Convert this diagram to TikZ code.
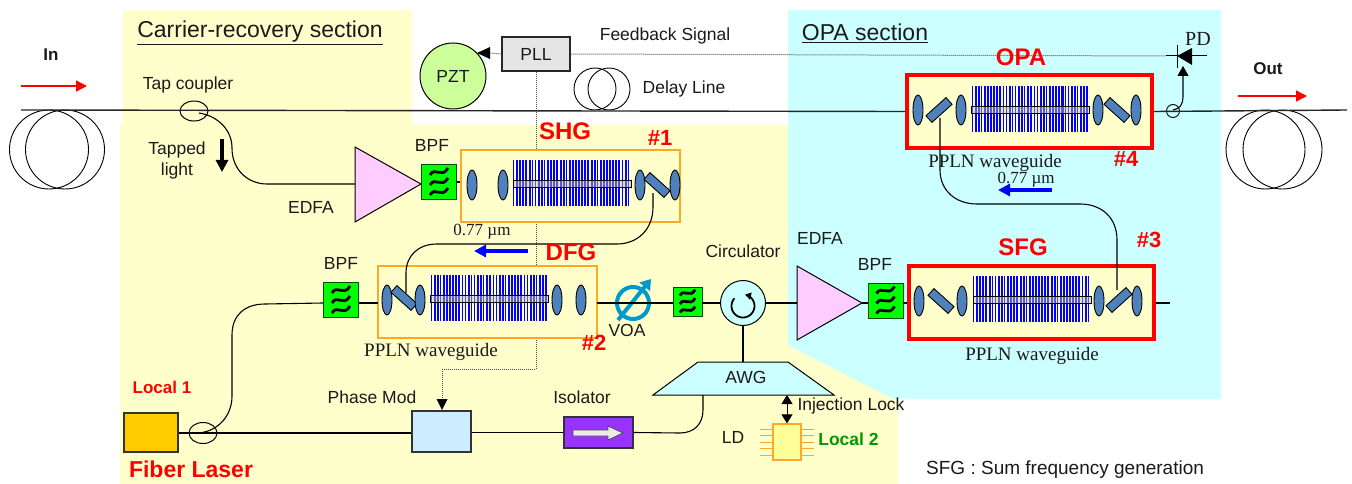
\documentclass[tikz,border=0pt]{standalone}
\usepackage{fontspec}
\setmainfont{Liberation Sans}
\newfontfamily\serifx{Liberation Serif}
\usetikzlibrary{arrows.meta,shapes.geometric,backgrounds}
\definecolor{bgyellow}{HTML}{FFFFCC}
\definecolor{bgcyan}{HTML}{CCFFFF}
\definecolor{lensblue}{HTML}{4F81BD}
\definecolor{orangebox}{HTML}{FFA726}
\definecolor{gblue}{HTML}{0000FF}
\definecolor{voablue}{HTML}{0099CC}
\definecolor{dotgray}{HTML}{505050}
\definecolor{txt}{HTML}{1A1A1A}
\tikzset{
  lab/.style={font=\fontsize{17.5}{19}\selectfont,text=txt,inner sep=0pt},
  serlab/.style={font=\serifx\fontsize{19}{21}\selectfont,text=txt,inner sep=0pt},
  redlab/.style={font=\bfseries\fontsize{24}{26}\selectfont,text=red,inner sep=0pt},
  lens/.style={ellipse,minimum width=10,minimum height=30,inner sep=0pt,fill=lensblue,draw=black,line width=0.9},
  mirrorbox/.style={rectangle,minimum width=27,minimum height=9,inner sep=0pt,fill=lensblue,draw=black,line width=0.9},
  bpfbox/.style={rectangle,minimum size=35,inner sep=0pt,fill=green,draw=black!70!green,line width=0.9},
  smallbpf/.style={bpfbox,minimum size=29},
  orgbox/.style={rectangle,inner sep=0pt,minimum width=219,minimum height=72,fill=bgyellow,draw=orangebox,line width=2},
  redbox/.style={rectangle,inner sep=0pt,minimum width=245,minimum height=73,fill=bgyellow,draw=red,line width=4},
  fiber/.style={line width=1.4,draw=black!85},
  thin fiber/.style={line width=1.1,draw=black},
  dotline/.style={line width=1,draw=dotgray,dash pattern=on 1pt off 1pt},
  coil/.style={circle,inner sep=0pt,draw=black,line width=0.9,minimum size=79},
  tip/.style={-{Triangle[length=10,width=11]}},
  fattip/.style={line width=3.5,-{Triangle[length=12,width=12]}}
}
\newcommand\grating[2]{%
  \foreach \i in {0,...,37}{%
    \pgfmathsetmacro\w{1.2+0.9*abs(sin(\i*53))}%
    \fill[gblue] ({#1-59+\i*3.1},{#2-23}) rectangle ++(\w,46);
  }%
  \fill[black!25,opacity=0.45] ({#1-59},{#2-3}) rectangle ({#1+59},{#2+4});
  \draw[black,line width=0.9] ({#1-59},{#2-3}) rectangle ({#1+59},{#2+4});
}
\newcommand\bpfmark[2]{%
  \begin{scope}[shift={(#1.center)},scale=#2]
  \foreach \d in {-10,0,10}{%
    \draw[line width=2.8,black] (-9,\d+3) .. controls (-4,\d-6) and (3,\d+7) .. (9,\d-4);
  }
  \end{scope}%
}
\begin{document}
\begin{tikzpicture}[x=1pt,y=-1pt]
\useasboundingbox (0,0) rectangle (1352,484);
\begin{scope}[on background layer]
  \fill[white] (0,0) rectangle (1352,484);
  \fill[bgyellow] (123,10) -- (412,10) -- (412,125) -- (898,125) -- (898,484) -- (120,484) -- (120,125) -- (123,125) -- cycle;
  \fill[bgcyan] (788,10) -- (1221,10) -- (1221,399) -- (893,399) -- (788,345) -- cycle;
\end{scope}

% coils
\node[coil] (coilA) at (49,149.5) {};
\node[coil] (coilB) at (65,149.5) {};
\node[coil] (coilC) at (1265.5,149.5) {};
\node[coil] (coilD) at (1282.5,149.5) {};
\node[coil,minimum size=42] (delayA) at (595,89) {};
\node[coil,minimum size=42] (delayB) at (609,89) {};

% modules
\node[orgbox] (shg) at (570.5,186) {};
\node[orgbox] (dfg) at (487.5,301.5) {};
\node[redbox] (sfg) at (1031,302) {};
\node[redbox] (opa) at (1029.5,111.5) {};

\grating{572}{183}
\grating{489.5}{298}
\grating{1032}{299}
\grating{1030.5}{109}

\node[lens] (s1) at (472,185) {};
\node[lens] (s2) at (503,185) {};
\node[lens] (s3) at (640,185) {};
\node[mirrorbox,rotate=-42] (s4) at (657,185) {};
\node[lens] (s5) at (675,185) {};

\node[lens] (d1) at (387,300) {};
\node[mirrorbox,rotate=-42] (d2) at (404,298) {};
\node[lens] (d3) at (420,300) {};
\node[lens] (d4) at (557,300) {};
\node[lens] (d5) at (581,300) {};

\node[lens] (f1) at (919,301) {};
\node[mirrorbox,rotate=-42] (f2) at (941,301) {};
\node[lens] (f3) at (962,301) {};
\node[lens] (f4) at (1099,301) {};
\node[mirrorbox,rotate=42] (f5) at (1119,300) {};
\node[lens] (f6) at (1137,301) {};

\node[lens] (o1) at (918,110) {};
\node[mirrorbox,rotate=42] (o2) at (939,110) {};
\node[lens] (o3) at (961,110) {};
\node[lens] (o4) at (1098,110) {};
\node[mirrorbox,rotate=-42] (o5) at (1117,110) {};
\node[lens] (o6) at (1136,110) {};

% amplifiers
\coordinate (e1w) at (355,184);
\coordinate (e1e) at (421,184);
\draw[fill={rgb,255:red,255;green,204;blue,255},draw=black,line width=1] (355,147) -- (e1e) -- (355,222) -- cycle;
\coordinate (e2w) at (797,303);
\coordinate (e2e) at (862,303);
\draw[fill={rgb,255:red,255;green,204;blue,255},draw=black,line width=1] (797,266) -- (e2e) -- (797,340) -- cycle;

% BPF
\node[bpfbox] (b1) at (439,182) {};
\node[bpfbox] (b2) at (341,300) {};
\node[smallbpf] (b3) at (687.5,301.5) {};
\node[bpfbox] (b4) at (885.5,300.5) {};
\bpfmark{b1}{1}
\bpfmark{b2}{1}
\bpfmark{b3}{0.85}
\bpfmark{b4}{1}

% other devices
\node[circle,minimum size=66,inner sep=0pt,fill={rgb,255:red,204;green,255;blue,153},draw=black,line width=1,lab] (pzt) at (453,76) {PZT};
\node[rectangle,minimum width=68,minimum height=34,inner sep=0pt,fill=black!10,draw=black!85,line width=1.2,lab] (pll) at (536,54) {PLL};
\node[circle,minimum size=45,inner sep=0pt,fill=bgcyan,draw=black,line width=1] (circ) at (743,303) {};
\draw[line width=1.8,-{Triangle[length=6,width=7]}] plot[domain=222:-80,samples=40] ({743+11.5*cos(\x)},{306+11.5*sin(\x)});
\node[rectangle,minimum width=54,minimum height=39,inner sep=0pt,fill={rgb,255:red,255;green,204;blue,0},draw=black!80,line width=1.1] (laser) at (151,432.5) {};
\node[rectangle,minimum width=59,minimum height=41,inner sep=0pt,fill={rgb,255:red,204;green,236;blue,255},draw=black!80,line width=1.1] (pmod) at (441.5,431.5) {};
\node[rectangle,minimum width=69,minimum height=31,inner sep=0pt,fill={rgb,255:red,153;green,51;blue,255},draw=black!80,line width=1.1] (iso) at (598.5,432.5) {};
\draw[fill=black!8,draw=black!70,line width=0.8] (573,430) -- (608,430) -- (608,426) -- (623,433) -- (608,440) -- (608,436) -- (573,436) -- cycle;
\coordinate (awgtop) at (743,362);
\coordinate (awgbl) at (703,395);
\coordinate (awgbr) at (787,395);
\draw[fill=bgcyan,draw=black,line width=1] (698,362) -- (788,362) -- (834,395) -- (653,395) -- cycle;
\node[rectangle,minimum width=28,minimum height=36,inner sep=0pt,fill={rgb,255:red,255;green,255;blue,153},draw=orangebox,line width=1.2] (ld) at (787,442) {};
\foreach \p in {429,435.5,442,448.5,455}{
  \draw[orangebox,line width=1] (760,\p) -- (773,\p);
  \draw[orangebox,line width=1] (801,\p) -- (814,\p);
}
\node[ellipse,minimum width=28,minimum height=20,inner sep=0pt,draw=black,line width=1] (tap) at (194,111) {};
\node[ellipse,minimum width=28,minimum height=21,inner sep=0pt,draw=black,line width=1] (tap2) at (203,433) {};
\node[circle,minimum size=13,inner sep=0pt,draw=black,line width=0.9] (tap3) at (1173,111) {};

% PD
\coordinate (pdtip) at (1183,66);
\coordinate (pdl) at (1166,56);
\coordinate (pdr) at (1207,56);
\draw[line width=1] (pdl) -- (pdr);
\draw[line width=1] (1177,45) -- (1177,68);
\fill[black] (1177,56) -- (1192,48) -- (1192,65) -- cycle;

% VOA
\node[circle,minimum size=32,inner sep=0pt,draw=voablue,line width=4] (voa) at (633,303) {};
\draw[voablue,line width=4,-{Triangle[length=10,width=13]}] (618,320) -- (651,279);

% fibers
\coordinate (infiber) at (21,110);
\coordinate (outfiber) at (1347,110);
\draw[fiber] (infiber) -- (opa.west);
\draw[fiber] (opa.east) -- (outfiber);
\draw[thin fiber] (199,113) .. controls (218,116) and (232,130) .. (232,148) .. controls (232,170) and (248,184) .. (267,184) -- (e1w);
\draw[thin fiber] (e1e) -- (b1);
\draw[thin fiber] (b1) -- (shg.west |- b1);
\draw[thin fiber] (653,193) -- (653,207) .. controls (653,230) and (637,244) .. (617,244) -- (437,244) .. controls (418,244) and (406,256) .. (406,273) -- (406,293);
\coordinate (dfgl) at (378,303);
\coordinate (dfgr) at (597,303);
\draw[thin fiber] (b2.east |- dfgl) -- (dfgl);
\draw[thin fiber] (dfgr) -- (b3.west |- dfgr);
\draw[thin fiber] (b3.east |- circ) -- (circ.west);
\draw[thin fiber] (circ.east) -- (e2w);
\draw[thin fiber] (e2e) -- (b4.west |- e2e);
\draw[thin fiber] (b4.east |- e2e) -- (sfg.west |- e2e);
\coordinate (sfgout) at (1170,303);
\draw[thin fiber] (sfg.east |- sfgout) -- (sfgout);
\draw[thin fiber] (circ.south) -- (awgtop);
\draw[thin fiber] (laser.east |- tap2) -- (pmod.west |- tap2);
\draw[thin fiber] (pmod.east |- iso) -- (iso.west);
\draw[thin fiber] (iso.east) -- (680,433) .. controls (694,433) and (703,424) .. (703,410) -- (awgbl);
\draw[thin fiber] (199,433) .. controls (218,431) and (232,416) .. (232,396) -- (232,335) .. controls (232,315) and (245,304) .. (265,304) -- (b2.west |- dfgl);
\draw[thin fiber] (1117,290) -- (1117,240) .. controls (1117,218) and (1102,204) .. (1080,204) -- (977,204) .. controls (955,204) and (940,190) .. (940,170) -- (940,118);
\draw[thin fiber,tip] (1173,110) .. controls (1180,109) and (1183,104) .. (1183,97) -- (pdtip);
\draw[line width=1,{Triangle[length=9,width=11]}-{Triangle[length=9,width=11]}] (awgbr) -- (ld.north -| awgbr);

% dotted
\begin{scope}[on background layer]
  \draw[dotline] (pll.south) -- (536,369) -- (442,369);
  \draw[dotline] (pll.east) -- (pdl);
\end{scope}
\draw[dotline] (442,369) -- (442,400);
\fill[black] (442,410) -- (436.5,399) -- (447.5,399) -- cycle;
\draw[dotline] (pll.west) -- (490,53);
\fill[black] (477,53) -- (490,47) -- (490,59) -- cycle;

% arrows
\coordinate (ira) at (21,86); \coordinate (irb) at (87,86);
\draw[red,line width=1.4,-{Triangle[length=11,width=11]}] (ira) -- (irb);
\coordinate (ora) at (1238,96); \coordinate (orb) at (1307,96);
\draw[red,line width=1.4,-{Triangle[length=11,width=11]}] (ora) -- (orb);
\coordinate (tla) at (222,139); \coordinate (tlb) at (222,172);
\draw[black,fattip] (tla) -- (tlb);
\coordinate (ba) at (528,251); \coordinate (bb) at (474,251);
\draw[blue,fattip] (ba) -- (bb);
\coordinate (ca) at (1052,190); \coordinate (cb) at (998,190);
\draw[blue,fattip] (ca) -- (cb);

% text
\begin{scope}[yshift=-1.7pt]
\node[lab] (awgt) at (746,376) {AWG};
\node[lab,font=\bfseries\fontsize{17}{19}\selectfont] (tin) at (51,53) {In};
\node[lab,font=\bfseries\fontsize{17}{19}\selectfont] (tout) at (1268,67) {Out};
\node[lab,font=\fontsize{23}{25}\selectfont] (tcr) at (260,31) {\underline{Carrier-recovery section}};
\node[lab,font=\fontsize{23}{25}\selectfont] (topa) at (865,32) {\underline{OPA section}};
\node[lab] (ttap) at (188,83) {Tap coupler};
\node[lab,align=center] (tlight) at (177,159) {Tapped\\[2pt]light};
\node[lab] (te1) at (311,206) {EDFA};
\node[lab] (tb1) at (432,144) {BPF};
\node[lab] (tb2) at (341,262) {BPF};
\node[lab] (tb4) at (875,263) {BPF};
\node[lab] (te2) at (820,237) {EDFA};
\node[lab] (tcirc) at (743,250) {Circulator};
\node[lab] (tvoa) at (627,329) {VOA};
\node[lab] (tfb) at (665,34) {Feedback Signal};
\node[lab] (tdl) at (684,87) {Delay Line};
\node[lab] (tpm) at (372,396) {Phase Mod};
\node[lab] (tiso) at (582,396) {Isolator};
\node[lab] (tinj) at (851,404) {Injection Lock};
\node[lab] (tld) at (733,436) {LD};
\node[lab,anchor=west,font=\fontsize{19}{21}\selectfont] (tsfg) at (926,468) {SFG : Sum frequency generation};
\node[lab,font=\serifx\fontsize{20}{22}\selectfont] (tpd) at (1198,37) {PD};
\node[serlab] (tp2) at (431,350) {PPLN waveguide};
\node[serlab] (tp3) at (1032,354) {PPLN waveguide};
\node[serlab] (tp4) at (995,161) {PPLN waveguide};
\node[serlab,font=\serifx\fontsize{17}{19}\selectfont] (tm1) at (482,230) {0.77 µm};
\node[serlab,font=\serifx\fontsize{17}{19}\selectfont] (tm2) at (1026,178) {0.77 µm};
\end{scope}
\node[redlab] (tshg) at (565,131) {SHG};
\node[redlab] (tdfg) at (571,252) {DFG};
\node[redlab] (tsf) at (1023,247) {SFG};
\node[redlab] (top) at (1021,57) {OPA};
\node[redlab,font=\bfseries\fontsize{22}{24}\selectfont] (h1) at (660,138) {\#1};
\node[redlab,font=\bfseries\fontsize{22}{24}\selectfont] (h2) at (594,343) {\#2};
\node[redlab,font=\bfseries\fontsize{22}{24}\selectfont] (h3) at (1149,240) {\#3};
\node[redlab,font=\bfseries\fontsize{22}{24}\selectfont] (h4) at (1126,159) {\#4};
\node[redlab,font=\bfseries\fontsize{17}{19}\selectfont] (tl1) at (162,387) {Local 1};
\node[redlab,font=\bfseries\fontsize{23}{25}\selectfont] (tfl) at (191,469.5) {Fiber Laser};
\node[lab,font=\bfseries\fontsize{17.5}{19}\selectfont,text={rgb,255:red,0;green,153;blue,0}] (tl2) at (848.5,439) {Local 2};
\end{tikzpicture}
\end{document}
